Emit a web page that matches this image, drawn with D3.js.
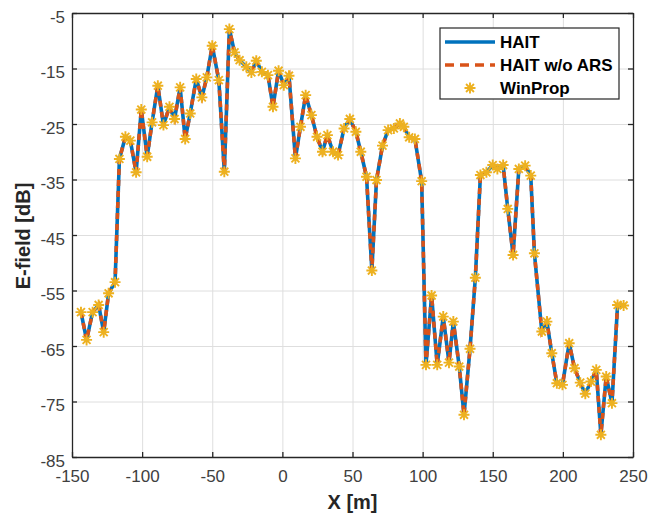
<!DOCTYPE html>
<html>
<head>
<meta charset="utf-8">
<script src="https://cdn.jsdelivr.net/npm/d3@7"></script>
<style>
  body { margin: 0; background: #fff; }
  text { font-family: Arial, "Liberation Sans", sans-serif; }
</style>
</head>
<body>
<div id="my_dataviz"></div>
<script>
// data
var xVals = [-143.6, -139.6, -135.3, -131.0, -127.4, -123.9, -119.3, -116.2, -111.9, -108.4,
  -104.3, -100.6, -96.4, -92.9, -88.8, -84.8, -80.5, -76.9, -72.9, -69.3,
  -65.7, -61.4, -57.4, -53.9, -50.0, -45.3, -41.4, -37.8, -34.1, -30.5,
  -25.7, -22.1, -18.6, -14.6, -10.3, -6.7, -2.7, 1.0, 4.7, 9.3,
  12.9, 16.6, 20.7, 24.7, 28.6, 32.1, 36.1, 39.7, 44.0, 48.1,
  52.4, 55.9, 60.0, 63.8, 67.1, 71.4, 75.4, 79.5, 83.8, 86.6,
  90.4, 94.5, 99.3, 102.4, 106.4, 110.4, 114.7, 118.8, 121.9, 126.1,
  129.5, 133.8, 137.6, 141.2, 145.5, 150.0, 153.3, 157.4, 160.7, 164.5,
  168.6, 173.1, 177.1, 179.7, 185.0, 188.6, 192.1, 195.7, 199.7, 204.5,
  208.3, 212.4, 216.0, 220.0, 223.8, 227.1, 230.9, 235.0, 239.0, 243.3];

var haitVals = [-58.9, -63.9, -58.9, -57.6, -62.5, -55.5, -53.5, -31.3, -27.3, -28.0,
  -33.7, -22.4, -30.9, -24.7, -18.1, -25.2, -21.9, -24.1, -18.4, -27.7,
  -23.1, -16.9, -20.2, -16.6, -10.9, -17.1, -33.6, -7.9, -12.1, -13.5,
  -14.7, -15.7, -13.6, -15.6, -16.2, -21.9, -15.4, -18.0, -16.3, -31.2,
  -25.5, -19.8, -23.4, -27.3, -30.0, -27.0, -30.0, -30.6, -25.8, -24.1,
  -26.4, -30.0, -34.5, -51.4, -35.1, -28.9, -26.1, -25.8, -24.9, -25.5,
  -27.4, -27.7, -35.3, -68.4, -55.9, -68.4, -59.7, -68.0, -60.6, -68.7,
  -77.4, -65.5, -52.7, -34.2, -33.7, -32.4, -33.1, -32.4, -40.3, -48.6,
  -33.1, -32.5, -34.3, -48.3, -62.4, -60.6, -66.3, -71.7, -72.0, -64.5,
  -69.0, -71.6, -73.6, -71.4, -69.3, -81.0, -70.5, -75.3, -57.6, -57.7];

// the three methods agree to within the width of the lines
var noArsVals = haitVals.slice();
var winPropVals = haitVals.slice();

var xTicks = [-150, -100, -50, 0, 50, 100, 150, 200, 250];
var yTicks = [-85, -75, -65, -55, -45, -35, -25, -15, -5];
var seriesNames = ["HAIT", "HAIT w/o ARS", "WinProp"];

// set the dimensions and margins of the graph
var margin = {top: 13, right: 27, bottom: 58, left: 72},
    width = 660 - margin.left - margin.right,
    height = 515 - margin.top - margin.bottom;

var svg = d3.select("#my_dataviz")
  .append("svg")
    .attr("width", 660)
    .attr("height", 515)
  .append("g")
    .attr("transform", "translate(" + margin.left + "," + margin.top + ")");

var x = d3.scaleLinear().domain([-150, 250]).range([0, width]);
var y = d3.scaleLinear().domain([-85, -5]).range([height, 0]);

// plain hyphen minus like matlab
var fmt = d => String(d);

// grid
svg.append("g")
    .attr("transform", "translate(0," + height + ")")
    .call(d3.axisBottom(x).tickValues(xTicks).tickSize(-height).tickFormat(""))
    .call(g => g.select(".domain").remove())
    .call(g => g.selectAll("line").attr("stroke", "#dedede").attr("stroke-width", 1));
svg.append("g")
    .call(d3.axisLeft(y).tickValues(yTicks).tickSize(-width).tickFormat(""))
    .call(g => g.select(".domain").remove())
    .call(g => g.selectAll("line").attr("stroke", "#dedede").attr("stroke-width", 1));

var pts = xVals.map((d, i) => ({x: d, a: haitVals[i], b: noArsVals[i], c: winPropVals[i]}));

// HAIT
svg.append("path")
    .datum(pts)
    .attr("fill", "none")
    .attr("stroke", "#0072BD")
    .attr("stroke-width", 3.6)
    .attr("stroke-linejoin", "round")
    .attr("d", d3.line().x(d => x(d.x)).y(d => y(d.a)));

// HAIT w/o ARS
svg.append("path")
    .datum(pts)
    .attr("fill", "none")
    .attr("stroke", "#D95319")
    .attr("stroke-width", 3.6)
    .attr("stroke-dasharray", "6,5")
    .attr("d", d3.line().x(d => x(d.x)).y(d => y(d.b)));

// asterisk marker like matlab '*'
function star(r) {
  var k = r * 0.72;
  return "M" + (-r) + ",0L" + r + ",0M0," + (-r) + "L0," + r +
    "M" + (-k) + "," + (-k) + "L" + k + "," + k + "M" + (-k) + "," + k + "L" + k + "," + (-k);
}

// WinProp
svg.selectAll(".mk")
    .data(pts)
    .enter()
    .append("path")
    .attr("class", "mk")
    .attr("transform", d => "translate(" + x(d.x) + "," + y(d.c) + ")")
    .attr("d", star(5.5))
    .attr("fill", "none")
    .attr("stroke", "#EDB120")
    .attr("stroke-width", 1.9);

// axes (box on, ticks inside)
var axisColor = "#262626";
var axBottom = svg.append("g")
    .attr("transform", "translate(0," + height + ")")
    .call(d3.axisBottom(x).tickValues(xTicks).tickFormat(fmt).tickSizeInner(-5).tickSizeOuter(0).tickPadding(13));
var axLeft = svg.append("g")
    .call(d3.axisLeft(y).tickValues(yTicks).tickFormat(fmt).tickSizeInner(-5).tickSizeOuter(0).tickPadding(7));
var axTop = svg.append("g")
    .call(d3.axisTop(x).tickValues(xTicks).tickSizeInner(-5).tickSizeOuter(0).tickFormat(""));
var axRight = svg.append("g")
    .attr("transform", "translate(" + width + ",0)")
    .call(d3.axisRight(y).tickValues(yTicks).tickSizeInner(-5).tickSizeOuter(0).tickFormat(""));

[axBottom, axLeft, axTop, axRight].forEach(g => {
  g.select(".domain").attr("stroke", axisColor).attr("stroke-width", 1.3);
  g.selectAll(".tick line").attr("stroke", axisColor).attr("stroke-width", 1.3);
  g.selectAll("text")
    .attr("fill", "#404040")
    .style("font-size", "17px")
    .style("font-family", "Arial, 'Liberation Sans', sans-serif");
});
axLeft.selectAll("text").attr("dy", "0.55em");

// axis titles
svg.append("text")
    .attr("x", x(50))
    .attr("y", height + 52)
    .attr("text-anchor", "middle")
    .style("font-size", "20px")
    .style("font-weight", "bold")
    .attr("fill", "#262626")
    .text("X [m]");

svg.append("text")
    .attr("transform", "translate(" + (-42) + "," + (height / 2 + 1) + ") rotate(-90)")
    .attr("text-anchor", "middle")
    .style("font-size", "20px")
    .style("font-weight", "bold")
    .attr("fill", "#262626")
    .text("E-field [dB]");

// legend
var lg = svg.append("g").attr("transform", "translate(" + (440 - margin.left) + "," + (28 - margin.top) + ")");
lg.append("rect")
    .attr("width", 179).attr("height", 71)
    .attr("fill", "#fff")
    .attr("stroke", axisColor)
    .attr("stroke-width", 1.2);

lg.append("line").attr("x1", 5).attr("x2", 55).attr("y1", 14).attr("y2", 14)
    .attr("stroke", "#0072BD").attr("stroke-width", 3.6);
lg.append("line").attr("x1", 5).attr("x2", 55).attr("y1", 37).attr("y2", 37)
    .attr("stroke", "#D95319").attr("stroke-width", 3.6).attr("stroke-dasharray", "9,6");
lg.append("path").attr("transform", "translate(30,60)").attr("d", star(5.5))
    .attr("fill", "none").attr("stroke", "#EDB120").attr("stroke-width", 1.9);

lg.selectAll(".lt")
    .data(seriesNames)
    .enter()
    .append("text")
    .attr("class", "lt")
    .attr("x", 60)
    .attr("y", (d, i) => 20 + i * 23)
    .style("font-size", "17px")
    .style("font-weight", "bold")
    .attr("fill", "#000")
    .text(d => d);
</script>
</body>
</html>
